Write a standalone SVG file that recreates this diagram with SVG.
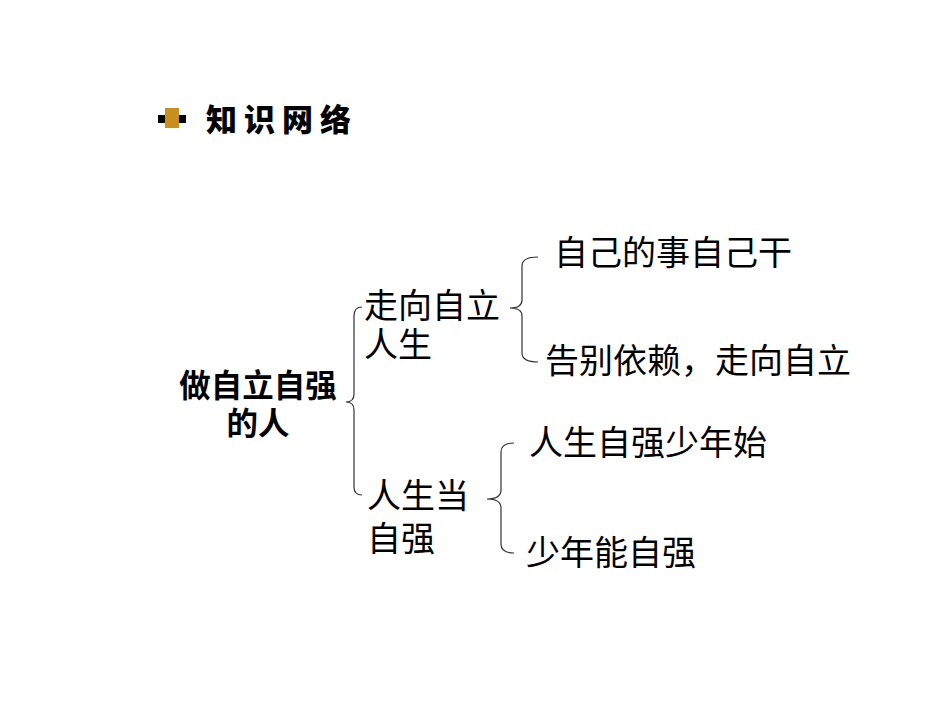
<svg xmlns="http://www.w3.org/2000/svg" width="950" height="713" viewBox="0 0 950 713">
<style>
.t{font-family:"Noto Sans CJK SC","Liberation Sans",sans-serif;font-size:34px;fill:#000}
.b{font-weight:bold;font-size:31.5px}
.h{font-family:"Noto Sans CJK SC",sans-serif;font-weight:900;font-size:31px;letter-spacing:7px;fill:#000}
.br{fill:none;stroke:#333;stroke-width:1.2}
</style>
<rect width="950" height="713" fill="#fff"/>
<g id="title">
<rect x="158" y="115" width="28" height="8" fill="#000"/>
<rect x="165" y="108" width="14" height="20" fill="#c8901a"/>
<text class="h" x="206" y="131">知识网络</text>
</g>
<g id="root"><text class="t b" text-anchor="middle"><tspan x="258" y="397">做自立自强</tspan><tspan x="258" y="435">的人</tspan></text></g>
<g id="n1"><text class="t"><tspan x="364" y="318">走向自立</tspan><tspan x="364" y="357">人生</tspan></text></g>
<g id="n2"><text class="t"><tspan x="367" y="508">人生当</tspan><tspan x="367" y="551">自强</tspan></text></g>
<g id="l1"><text class="t" x="554" y="265">自己的事自己干</text></g>
<g id="l2"><text class="t" x="545" y="373">告别依赖，走向自立</text></g>
<g id="l3"><text class="t" x="529" y="455">人生自强少年始</text></g>
<g id="l4"><text class="t" x="526" y="565">少年能自强</text></g>
<g id="connectors">
<path class="br" d="M362,307 Q354,307 354,316 L354,394 Q354,402 346,402 Q354,402 354,410 L354,487 Q354,495 362,495"/>
<path class="br" d="M538,257 Q522,257 522,266 L522,300 Q522,308 510,308 Q522,308 522,316 L522,353 Q522,362 538,362"/>
<path class="br" d="M514,443 Q501,443 501,452 L501,490 Q501,499 487,499 Q501,499 501,508 L501,544 Q501,553 514,553"/>
</g>
</svg>
